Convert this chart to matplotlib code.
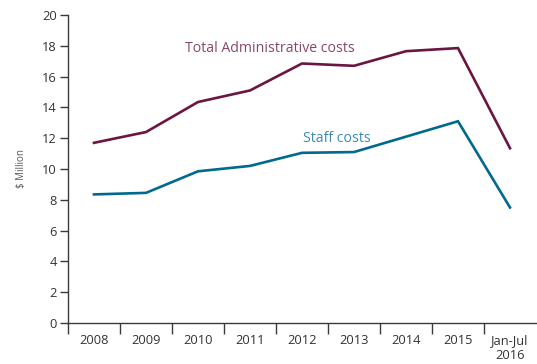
import matplotlib
matplotlib.use("Agg")
import matplotlib.pyplot as plt
from matplotlib.ticker import FixedLocator

categories = ["2008", "2009", "2010", "2011", "2012", "2013", "2014", "2015", "Jan-Jul\n2016"]
total_admin = [11.7, 12.4, 14.35, 15.1, 16.85, 16.7, 17.65, 17.85, 11.35]
staff_costs = [8.35, 8.45, 9.85, 10.2, 11.05, 11.1, 12.1, 13.1, 7.5]
y_ticks = [0, 2, 4, 6, 8, 10, 12, 14, 16, 18, 20]

maroon = "#6b1541"
teal = "#006a8e"
axis_col = "#3a3a3a"
text_col = "#333333"

plt.rcParams["font.family"] = ["Open Sans", "DejaVu Sans"]

fig = plt.figure(figsize=(5.37, 3.64), dpi=100)
ax = fig.add_axes([68 / 537, 1 - 323 / 364, 468 / 537, 308 / 364])

x = list(range(len(categories)))
ax.plot(x, total_admin, color=maroon, lw=1.9, solid_joinstyle="miter")
ax.plot(x, staff_costs, color=teal, lw=1.9, solid_joinstyle="miter")

ax.text(1.75, 17.85, "Total Administrative costs", color="#8a4768",
        fontsize=10.2, va="center", ha="left")
ax.text(4.02, 12.0, "Staff costs", color="#3b8bb0",
        fontsize=10.2, va="center", ha="left")

ax.set_xlim(-0.5, 8.5)
ax.set_ylim(0, 20)
ax.set_yticks(y_ticks)
ax.set_xticks(x)
ax.set_xticklabels(categories)
ax.xaxis.set_minor_locator(FixedLocator([i - 0.5 for i in range(len(categories))]))

ax.tick_params(axis="x", which="major", length=0, pad=8, labelsize=9.3, colors=text_col)
ax.tick_params(axis="x", which="minor", length=8, width=1, color=axis_col, direction="out")
ax.tick_params(axis="y", length=6, width=1, color=axis_col, pad=2, labelsize=9.3,
               labelcolor=text_col)

for side in ("top", "right"):
    ax.spines[side].set_visible(False)
for side in ("left", "bottom"):
    ax.spines[side].set_color(axis_col)
    ax.spines[side].set_linewidth(1)
ax.spines["bottom"].set_clip_on(False)

ax.set_ylabel("$ Million", fontsize=7, color="#555555")
ax.yaxis.set_label_coords(-0.088, 0.5)

fig.savefig("out.png", dpi=100)
